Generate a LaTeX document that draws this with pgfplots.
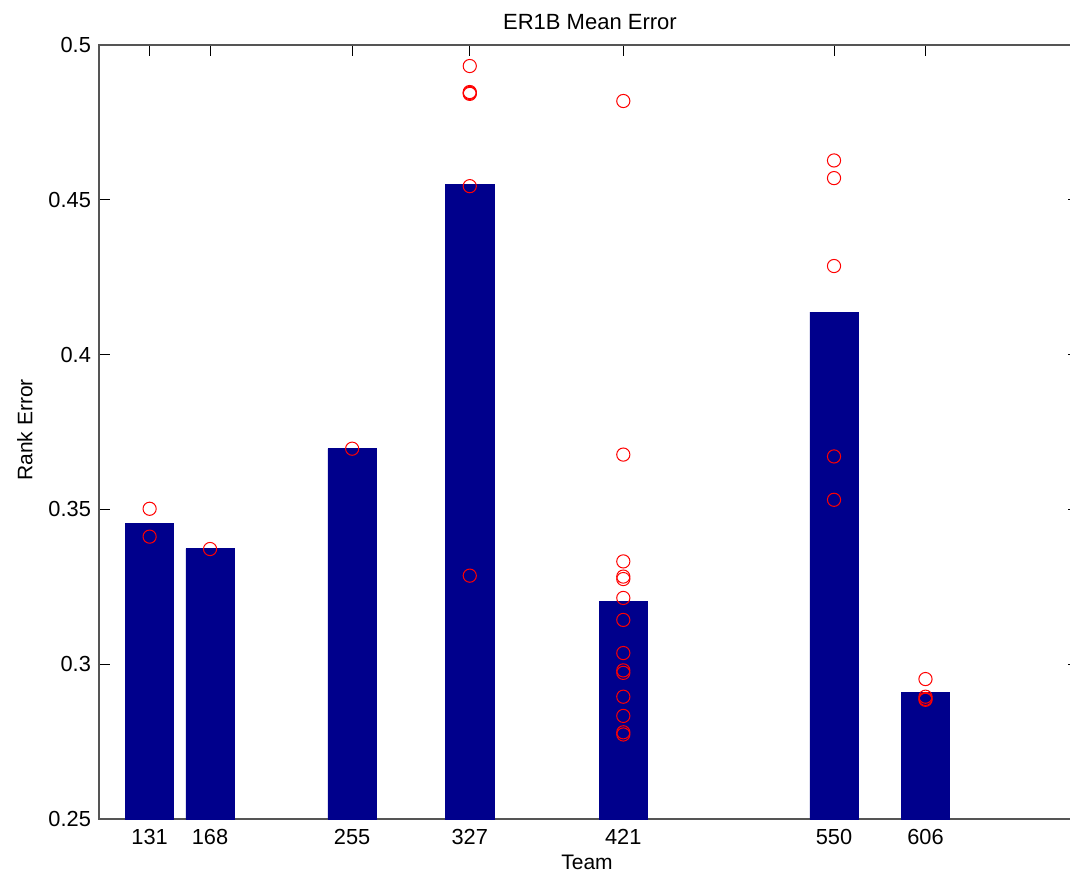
\documentclass[border=0pt]{standalone}
\usepackage{fontspec}
\setmainfont{Liberation Sans}
\usepackage{pgfplots}
\pgfplotsset{compat=1.18}
\definecolor{barblue}{RGB}{0,0,140}
\definecolor{axgray}{RGB}{85,85,85}
\begin{document}
\fontsize{10}{12}\selectfont
\begin{tikzpicture}
\begin{axis}[
  scale only axis, width=490pt, height=387pt,
  xmin=100, xmax=700, ymin=0.25, ymax=0.5,
  xtick={131,168,255,327,421,550,606},
  xticklabels={131,168,255,327,421,550,606},
  ytick={0.25,0.3,0.35,0.4,0.45,0.5},
  yticklabels={0.25,0.3,0.35,0.4,0.45,0.5},
  tick align=inside, major tick length=5.5pt,
  axis line style={axgray, line width=0.6pt},
  tick style={black, line width=0.5pt},
  clip mode=individual,
  ticklabel style={font=\fontsize{10.9}{13}\selectfont},
  xlabel={Team},
  xlabel style={at={(axis description cs:0.498,-0.0556)}, anchor=center, font=\fontsize{10.5}{12}\selectfont},
  ylabel={Rank Error},
  ylabel style={at={(axis description cs:-0.0755,0.5026)}, anchor=center, font=\fontsize{10.5}{12}\selectfont},
  xticklabel style={yshift=-1.5pt},
  yticklabel style={xshift=-0.5pt},
]
\addplot[ybar, bar width=29.6, fill=barblue, draw=barblue, line width=0.3pt] coordinates {
  (131,0.3456) (168,0.3373) (255,0.3696) (327,0.4550) (421,0.3203) (550,0.4137) (606,0.2908)
};
\addplot[only marks, mark=o, mark size=3.3pt, red, mark options={line width=0.5pt}] coordinates {
  (131,0.3502) (131,0.3412)
  (168,0.3372)
  (255,0.3696)
  (327,0.4932) (327,0.4848) (327,0.4845) (327,0.4842) (327,0.4544) (327,0.3286)
  (421,0.4819) (421,0.3677) (421,0.3332) (421,0.3283) (421,0.3275) (421,0.3214) (421,0.3143)
  (421,0.3036) (421,0.2980) (421,0.2972) (421,0.2895) (421,0.2833) (421,0.2780) (421,0.2773)
  (550,0.4627) (550,0.4570) (550,0.4286) (550,0.3671) (550,0.3531)
  (606,0.2952) (606,0.2895) (606,0.2888) (606,0.2885)
};
\node[font=\fontsize{11}{13}\selectfont, anchor=center] at (axis description cs:0.501,1.0297) {ER1B Mean Error};
\coordinate (bl) at (axis description cs:-0.101,-0.0736);
\coordinate (tr) at (axis description cs:0.9908,1.0581);
\end{axis}
\pgfresetboundingbox
\useasboundingbox (bl) rectangle (tr);
\end{tikzpicture}
\end{document}
